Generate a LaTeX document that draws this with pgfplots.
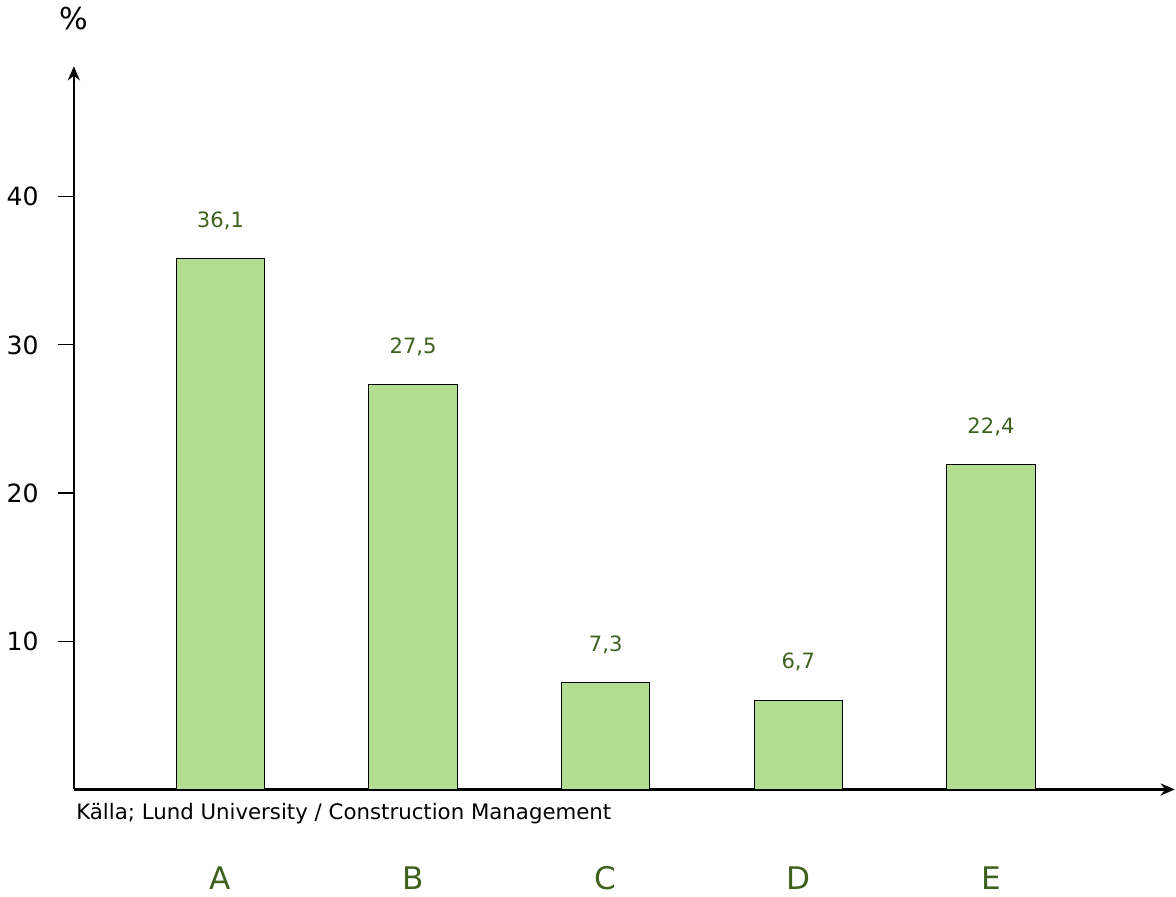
\documentclass[border=0pt]{standalone}
\usepackage{fontspec}
\setmainfont{DejaVu Sans}
\usepackage{pgfplots}
\pgfplotsset{compat=1.18}
\usetikzlibrary{arrows.meta}
\definecolor{barfill}{RGB}{179,222,143}
\definecolor{labgreen}{RGB}{62,98,30}
\begin{document}
\begin{tikzpicture}
\begin{axis}[
  scale only axis,
  width=548pt, height=360pt,
  axis lines=left,
  axis line style={line width=1.3pt, -{Stealth[length=7pt, width=6pt]}},
  xmin=-0.761, xmax=4.954,
  ymin=0, ymax=48.8,
  ytick={10,20,30,40},
  tick align=outside,
  major tick length=8pt,
  tick style={black, line width=0.6pt},
  yticklabel style={font=\fontsize{12.5}{15}\selectfont, xshift=-6pt},
  /pgf/number format/assume math mode=true,
  xtick={0,1,2,3,4},
  xticklabels={A,B,C,D,E},
  x tick style={draw=none},
  xticklabel style={font=\fontsize{15.5}{18}\selectfont, text=labgreen, anchor=center, yshift=-36pt},
  ybar, bar width=44pt,
  nodes near coords={\pgfplotspointmeta},
  point meta=explicit symbolic,
  nodes near coords style={font=\fontsize{10.5}{12}\selectfont, text=labgreen, anchor=center, yshift=19pt},
  clip=false,
]
\addplot[fill=barfill, draw=black, line width=0.5pt] coordinates {
  (0,35.8) [36,1]
  (1,27.3) [27,5]
  (2,7.2)  [7,3]
  (3,6.0)  [6,7]
  (4,21.9) [22,4]
};
\node[anchor=center, font=\fontsize{15}{17}\selectfont] at (rel axis cs:0,1) [yshift=24pt] {\%};
\node[anchor=west, inner sep=0pt, font=\fontsize{10.6}{13}\selectfont] at (rel axis cs:0,0) [xshift=1pt, yshift=-12pt] {Källa; Lund University / Construction Management};
\end{axis}
\end{tikzpicture}
\end{document}
